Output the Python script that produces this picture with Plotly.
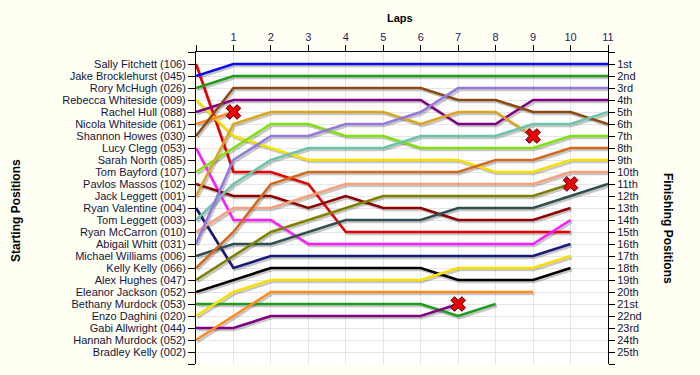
import plotly.graph_objects as go

# ---------------- data ----------------
laps = list(range(0, 12))
lap_labels = [""] + [str(i) for i in range(1, 12)]

start_names = [
    "Sally Fitchett (106)", "Jake Brocklehurst (045)", "Rory McHugh (026)",
    "Rebecca Whiteside (009)", "Rachel Hull (088)", "Nicola Whiteside (061)",
    "Shannon Howes (030)", "Lucy Clegg (053)", "Sarah North (085)",
    "Tom Bayford (107)", "Pavlos Massos (102)", "Jack Leggett (001)",
    "Ryan Valentine (004)", "Tom Leggett (003)", "Ryan McCarron (010)",
    "Abigail Whitt (031)", "Michael Williams (006)", "Kelly Kelly (066)",
    "Alex Hughes (047)", "Eleanor Jackson (052)", "Bethany Murdock (053)",
    "Enzo Daghini (020)", "Gabi Allwright (044)", "Hannah Murdock (052)",
    "Bradley Kelly (002)",
]
finish_labels = ["1st", "2nd", "3rd"] + [f"{i}th" for i in range(4, 21)] + \
    ["21st", "22nd", "23rd", "24th", "25th"]

# positions per lap (lap 0 = grid)
sally_fitchett = [1, 10, 10, 11, 15, 15, 15, 15, 15, 15, 15]
jake_brocklehurst = [2, 1, 1, 1, 1, 1, 1, 1, 1, 1, 1, 1]
rory_mchugh = [3, 2, 2, 2, 2, 2, 2, 2, 2, 2, 2, 2]
rebecca_whiteside = [4, 7, 8, 9, 9, 9, 9, 9, 10, 10, 9, 9]
rachel_hull = [5, 4, 4, 4, 4, 4, 4, 6, 6, 4, 4, 4]
nicola_whiteside = [6, 5]
shannon_howes = [7, 3, 3, 3, 3, 3, 3, 4, 4, 5, 5, 6]
lucy_clegg = [8, 14, 14, 16, 16, 16, 16, 16, 16, 16, 14]
tom_bayford = [10, 8, 6, 6, 7, 7, 8, 8, 8, 8, 7, 7]
pavlos_massos = [11, 12, 12, 13, 12, 13, 13, 14, 14, 14, 13]
jack_leggett = [12, 6, 5, 5, 5, 5, 6, 5, 5, 7]
ryan_valentine = [13, 18, 17, 17, 17, 17, 17, 17, 17, 17, 16]
tom_leggett = [14, 11, 9, 8, 8, 8, 7, 7, 7, 6, 6, 5]
ryan_mccarron = [15, 13, 13, 12, 11, 11, 11, 11, 11, 11, 10, 10]
abigail_whitt = [16, 9, 7, 7, 6, 6, 5, 3, 3, 3, 3, 3]
michael_williams = [17, 16, 16, 15, 14, 14, 14, 13, 13, 13, 12, 11]
kelly_kelly = [18, 15, 11, 10, 10, 10, 10, 10, 9, 9, 8, 8]
alex_hughes = [19, 17, 15, 14, 13, 12, 12, 12, 12, 12, 11]
eleanor_jackson = [20, 19, 18, 18, 18, 18, 18, 19, 19, 19, 18]
bethany_murdock = [21, 21, 21, 21, 21, 21, 21, 22, 21]
enzo_daghini = [22, 20, 19, 19, 19, 19, 19, 18, 18, 18, 17]
gabi_allwright = [23, 23, 22, 22, 22, 22, 22, 21]
hannah_murdock = [24, 22, 20, 20, 20, 20, 20, 20, 20, 20]

retired = ["Nicola Whiteside (061)", "Jack Leggett (001)",
           "Alex Hughes (047)", "Gabi Allwright (044)"]

# ---------------- styling ----------------
drivers = [
    ("Sally Fitchett (106)", sally_fitchett, "#e80000"),
    ("Jake Brocklehurst (045)", jake_brocklehurst, "#0a0aee"),
    ("Rory McHugh (026)", rory_mchugh, "#1f9b1f"),
    ("Rebecca Whiteside (009)", rebecca_whiteside, "#f5e000"),
    ("Rachel Hull (088)", rachel_hull, "#800080"),
    ("Nicola Whiteside (061)", nicola_whiteside, "#ff8a1e"),
    ("Shannon Howes (030)", shannon_howes, "#8b4a14"),
    ("Lucy Clegg (053)", lucy_clegg, "#ff1aff"),
    ("Tom Bayford (107)", tom_bayford, "#80e010"),
    ("Pavlos Massos (102)", pavlos_massos, "#8b0000"),
    ("Jack Leggett (001)", jack_leggett, "#dba520"),
    ("Ryan Valentine (004)", ryan_valentine, "#1a1a78"),
    ("Tom Leggett (003)", tom_leggett, "#6cc4a8"),
    ("Ryan McCarron (010)", ryan_mccarron, "#f8a07c"),
    ("Abigail Whitt (031)", abigail_whitt, "#9478dc"),
    ("Michael Williams (006)", michael_williams, "#2f4f4f"),
    ("Kelly Kelly (066)", kelly_kelly, "#d2691e"),
    ("Alex Hughes (047)", alex_hughes, "#808000"),
    ("Eleanor Jackson (052)", eleanor_jackson, "#000000"),
    ("Bethany Murdock (053)", bethany_murdock, "#1f9b1f"),
    ("Enzo Daghini (020)", enzo_daghini, "#f5e000"),
    ("Gabi Allwright (044)", gabi_allwright, "#800080"),
    ("Hannah Murdock (052)", hannah_murdock, "#ff8a1e"),
]

FONT = "Liberation Sans, Arial, sans-serif"
TXT = "#14143c"

fig = go.Figure()

# shadows (base subplot, slightly shifted scales)
for name, pos, col in drivers:
    fig.add_trace(go.Scatter(
        x=laps[:len(pos)], y=pos, mode="lines", xaxis="x", yaxis="y",
        line=dict(color="rgba(0,0,0,0.22)", width=2.6),
        hoverinfo="skip", showlegend=False))

# lines
for name, pos, col in drivers:
    fig.add_trace(go.Scatter(
        x=laps[:len(pos)], y=pos, mode="lines", xaxis="x2", yaxis="y2",
        line=dict(color=col, width=2.6), name=name, showlegend=False))

# retirement markers
rx = [len(pos) - 1 for name, pos, col in drivers if name in retired]
ry = [pos[-1] for name, pos, col in drivers if name in retired]
fig.add_trace(go.Scatter(
    x=rx, y=ry, mode="markers", xaxis="x2", yaxis="y3",
    marker=dict(symbol="x", size=13, color="#ee0000",
                line=dict(color="#500000", width=1)),
    showlegend=False, hoverinfo="skip"))

ticks_y = list(range(0, 27))
left_text = [""] + start_names + [""]
right_text = [""] + finish_labels + [""]

fig.update_layout(
    width=700, height=375,
    margin=dict(l=196, r=92, t=52, b=11),
    paper_bgcolor="#fffff4",
    plot_bgcolor="#ffffff",
    font=dict(family=FONT, size=11, color=TXT),
    xaxis=dict(domain=[0, 1], range=[-0.04, 10.96], visible=False,
               fixedrange=True),
    yaxis=dict(domain=[0, 1], range=[25.83, -0.17], visible=False,
               fixedrange=True),
    xaxis2=dict(overlaying="x", anchor="y2", side="top", range=[0, 11],
                tickmode="array", tickvals=laps, ticktext=lap_labels,
                ticks="outside", ticklen=6, tickcolor="#000000",
                showline=True, linecolor="#000000", linewidth=1,
                showgrid=True, gridcolor="#e6e6e6", gridwidth=1,
                zeroline=False, tickfont=dict(size=11, color="#2a1660")),
    yaxis2=dict(overlaying="y", anchor="x2", side="left", range=[26, 0],
                tickmode="array", tickvals=ticks_y, ticktext=left_text,
                ticks="outside", ticklen=7, tickcolor="#000000",
                showline=True, linecolor="#000000", linewidth=1,
                showgrid=True, gridcolor="#e6e6e6", gridwidth=1,
                zeroline=False, tickfont=dict(size=11, color=TXT)),
    yaxis3=dict(overlaying="y", anchor="x2", side="right", range=[26, 0],
                tickmode="array", tickvals=ticks_y, ticktext=right_text,
                ticks="outside", ticklen=6, tickcolor="#000000",
                showline=True, linecolor="#000000", linewidth=1,
                showgrid=False, zeroline=False,
                tickfont=dict(size=11, color=TXT)),
    annotations=[
        dict(text="<b>Laps</b>", xref="paper", yref="paper",
             x=(400 - 196) / 412, y=(364 - 18) / 312, showarrow=False,
             xanchor="center", yanchor="middle",
             font=dict(size=11, color="#000000")),
        dict(text="<b>Starting Positions</b>", xref="paper", yref="paper",
             x=(16 - 196) / 412, y=(364 - 211) / 312, showarrow=False,
             xanchor="center", yanchor="middle",
             textangle=-90, font=dict(size=12, color="#000000")),
        dict(text="<b>Finishing Positions</b>", xref="paper", yref="paper",
             x=(668 - 196) / 412, y=(364 - 228) / 312, showarrow=False,
             xanchor="center", yanchor="middle",
             textangle=90, font=dict(size=12, color="#000000")),
    ],
)

fig.write_html("out.html", config={"displayModeBar": False},
               post_script="document.body.style.margin='0';")
